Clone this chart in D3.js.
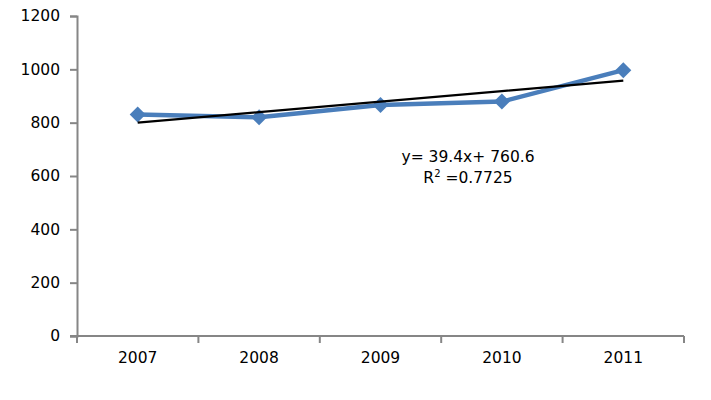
<!DOCTYPE html>
<html>
<head>
<meta charset="utf-8">
<script src="https://cdn.jsdelivr.net/npm/d3@7"></script>
<style>
    body { margin: 0; background: #fff; }
    text { font-family: "DejaVu Sans", sans-serif; fill: #000; }
</style>
</head>
<body>
<div id="chart"></div>
<script>
const years = ['2007', '2008', '2009', '2010', '2011'];
const values = [831, 820, 866, 879, 997];
const yTicks = [0, 200, 400, 600, 800, 1000, 1200];
// trendline as reported on the chart
const slope = 39.4;
const intercept = 760.6;
const equationText = 'y= 39.4x+ 760.6';
const rSquaredText = '0.7725';

const width = 711, height = 400;
const margin = { top: 16, right: 27, bottom: 64, left: 77 };
const labelFont = '15.5px';

const svg = d3.select('#chart').append('svg')
    .attr('width', width)
    .attr('height', height);

const x = d3.scaleBand()
    .domain(years)
    .range([margin.left, width - margin.right]);

const y = d3.scaleLinear()
    .domain([0, 1200])
    .range([height - margin.bottom, margin.top]);

const axisColor = '#868686';

// y axis
const yAxis = svg.append('g')
    .attr('transform', 'translate(' + margin.left + ',0)')
    .call(d3.axisLeft(y).tickValues(yTicks).tickFormat(d3.format('d')).tickSize(7).tickPadding(10));
yAxis.select('.domain').attr('stroke', axisColor).attr('stroke-width', 2);
yAxis.selectAll('.tick line').attr('stroke', axisColor).attr('stroke-width', 2);
yAxis.selectAll('.tick text')
    .attr('font-size', labelFont)
    .attr('font-family', '"DejaVu Sans", sans-serif')
    .attr('fill', '#000');

// x axis, ticks between categories
const xAxis = svg.append('g')
    .attr('transform', 'translate(0,' + y(0) + ')');
xAxis.append('line')
    .attr('x1', margin.left - 7).attr('x2', width - margin.right)
    .attr('stroke', axisColor).attr('stroke-width', 2);
const edges = years.map(d => x(d)).concat([x(years[years.length - 1]) + x.bandwidth()]);
xAxis.selectAll('.xtick')
    .data(edges)
    .enter()
    .append('line')
    .attr('x1', d => d).attr('x2', d => d)
    .attr('y1', 0).attr('y2', 7)
    .attr('stroke', axisColor).attr('stroke-width', 2);
xAxis.selectAll('.xlabel')
    .data(years)
    .enter()
    .append('text')
    .attr('x', d => x(d) + x.bandwidth() / 2)
    .attr('y', 27)
    .attr('text-anchor', 'middle')
    .attr('font-size', labelFont)
    .text(d => d);

const cx = d => x(d) + x.bandwidth() / 2;

// data line
const line = d3.line()
    .x((d, i) => cx(years[i]))
    .y(d => y(d));
svg.append('path')
    .datum(values)
    .attr('d', line)
    .attr('fill', 'none')
    .attr('stroke', '#4a7ebb')
    .attr('stroke-width', 4.5)
    .attr('stroke-linejoin', 'round');

// diamond markers
svg.selectAll('.marker')
    .data(values)
    .enter()
    .append('path')
    .attr('d', d3.symbol(d3.symbolSquare, 128))
    .attr('transform', (d, i) => 'translate(' + cx(years[i]) + ',' + y(d) + ') rotate(45)')
    .attr('fill', '#4a7ebb');

// linear trendline
const trend = years.map((d, i) => intercept + slope * (i + 1));
svg.append('path')
    .datum(trend)
    .attr('d', line)
    .attr('fill', 'none')
    .attr('stroke', '#000')
    .attr('stroke-width', 2.3);

// equation label
svg.append('text')
    .attr('x', 468)
    .attr('y', 162)
    .attr('text-anchor', 'middle')
    .attr('font-size', labelFont)
    .text(equationText);

const r2 = svg.append('text')
    .attr('x', 468)
    .attr('y', 183)
    .attr('text-anchor', 'middle')
    .attr('font-size', labelFont);
r2.append('tspan').text('R');
r2.append('tspan').attr('font-size', '10px').attr('dy', -6).text('2');
r2.append('tspan').attr('dy', 6).text(' =' + rSquaredText);
</script>
</body>
</html>
